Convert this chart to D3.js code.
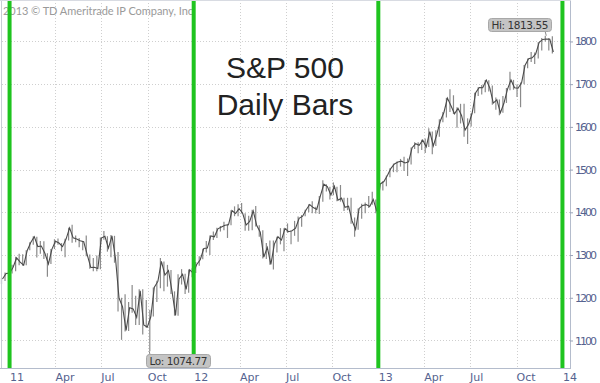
<!DOCTYPE html>
<html><head><meta charset="utf-8">
<script src="https://cdn.jsdelivr.net/npm/d3@7"></script>
<style>body{margin:0;background:#fff}svg{display:block}</style>
</head><body>
<svg id="c" width="600" height="383"></svg>
<script>
// Weekly (Friday) closes, highs and lows of the S&P 500, Dec 17 2010 – Dec 13 2013
const firstWeek = "2010-12-17";
const closes = [1243.91,1256.77,1257.64,
1271.50,1293.24,1283.35,1276.34,1310.87,1329.15,1343.01,1319.88,1321.15,1304.28,1279.20,1313.80,
1332.41,1328.17,1319.68,1337.38,1363.61,1340.20,1337.77,1333.27,1331.10,1300.16,1270.98,1271.50,1268.45,
1339.67,1343.80,1316.14,1345.02,1292.28,1199.38,1178.81,1123.53,1176.80,1173.97,1154.23,1216.01,1136.43,1131.42,
1155.46,1224.58,1238.25,1285.09,1253.23,1263.85,1215.65,1158.67,1244.28,1255.19,1219.66,1265.33,1257.60,
1277.81,1289.09,1315.38,1316.33,1344.90,1342.64,1361.23,1365.74,1369.63,1370.87,1404.17,1397.11,1408.47,
1398.08,1370.26,1378.53,1403.36,1369.10,1353.39,1295.22,1317.82,1278.04,1325.66,1342.84,1335.02,1362.16,
1354.68,1356.78,1362.66,1385.97,1390.99,1405.87,1418.16,1411.13,1406.58,1437.92,1465.77,1460.15,1440.67,
1460.93,1428.59,1433.19,1411.94,1414.20,1379.85,1359.88,1409.15,1416.18,1418.07,1413.58,1430.15,1402.43,
1466.47,1472.05,1485.98,1502.96,1513.17,1517.93,1519.79,1515.60,1518.20,1551.18,1560.70,1556.89,1569.19,
1553.28,1588.85,1555.25,1582.24,1614.42,1633.70,1667.47,1649.60,1630.74,1643.38,1626.73,1592.43,1606.28,
1631.89,1680.19,1692.09,1691.65,1709.67,1691.42,1655.83,1663.50,1632.97,1655.17,1687.99,1709.91,1691.75,
1690.50,1703.20,1744.50,1759.77,1761.64,1770.61,1798.18,1804.76,1805.81,1805.09,1775.32];
const highs = [1246,1259,1262,
1277,1296,1303,1302,1311,1330,1344,1343,1333,1332,1304,1314,
1337,1339,1328,1338,1364,1371,1346,1340,1333,1346,1301,1293,1299,
1341,1356,1344,1347,1345,1307,1200,1208,1190,1230,1205,1220,1220,1195,
1172,1224,1240,1293,1285,1277,1265,1215,1255,1267,1256,1266,1269,
1284,1297,1315,1333,1346,1355,1364,1368,1378,1373,1405,1414,1419,
1422,1398,1392,1406,1415,1370,1358,1328,1334,1334,1343,1363,1363,
1374,1357,1380,1390,1394,1406,1419,1426,1413,1438,1475,1466,1460,
1470,1460,1464,1434,1434,1434,1388,1409,1420,1423,1438,1448,1430,
1467,1473,1486,1503,1514,1519,1525,1530,1526,1552,1564,1564,1570,
1573,1597,1589,1592,1618,1635,1668,1688,1674,1646,1654,1654,1620,
1632,1680,1693,1698,1710,1709,1697,1669,1664,1672,1691,1729,1710,
1699,1704,1745,1760,1775,1774,1798,1808,1813.55,1808,1812];
const lows = [1232,1239,1251,
1257,1262,1276,1275,1276,1311,1324,1294,1303,1291,1249,1279,
1314,1324,1309,1295,1334,1329,1330,1318,1311,1297,1268,1262,1262,
1267,1336,1308,1295,1282,1168,1101.5,1121,1122,1165,1136,1136,1114,1130,
1074.77,1156,1190,1222,1215,1226,1209,1158,1158,1231,1209,1212,1248,
1258,1275,1290,1306,1300,1335,1340,1355,1358,1340,1370,1391,1391,
1397,1357,1357,1358,1367,1343,1292,1291,1277,1266,1306,1325,1309,
1352,1325,1345,1331,1366,1391,1400,1398,1397,1396,1425,1449,1430,
1440,1426,1425,1403,1405,1373,1343,1359,1385,1398,1410,1418,1398,
1402,1451,1461,1482,1494,1494,1507,1497,1485,1512,1548,1538,1546,
1539,1553,1536,1555,1577,1611,1622,1635,1630,1598,1608,1577,1560,
1601,1632,1672,1676,1681,1683,1652,1640,1627,1633,1656,1686,1687,
1670,1646,1700,1737,1752,1747,1760,1779,1800,1779,1772];
const yTicks = [1100,1200,1300,1400,1500,1600,1700,1800];
const yearLines = ["2011-01-01","2012-01-01","2013-01-01","2014-01-01"];
const xTickLabels = ["11","Apr","Jul","Oct","12","Apr","Jul","Oct","13","Apr","Jul","Oct","14"];
const xTickDates = ["2011-01-01","2011-04-01","2011-07-01","2011-10-01","2012-01-01","2012-04-01","2012-07-01","2012-10-01","2013-01-01","2013-04-01","2013-07-01","2013-10-01","2014-01-01"];
const hiLabel = {text:"Hi: 1813.55", date:"2013-11-29", value:1813.55};
const loLabel = {text:"Lo: 1074.77", date:"2011-10-04", value:1074.77};
const titleLines = ["S&P 500","Daily Bars"];
const copyright = "2013 \u00A9 TD Ameritrade IP Company, Inc";

const parse = d3.utcParse("%Y-%m-%d");
const weeks = d3.utcFriday.range(parse(firstWeek), d3.utcDay.offset(parse(firstWeek), 7*closes.length));
const data = weeks.map((d,i)=>({date:d, close:closes[i], high:highs[i], low:lows[i]}));

const svg = d3.select("#c");
const L = 2, R = 570, T = 0, B = 368;
const x = d3.scaleUtc().domain([parse("2010-12-16"), parse("2014-01-15")]).range([L, R]);
const y = d3.scaleLinear().domain([1035.6, 1897]).range([B, T]);

// grid
const g = svg.append("g");
g.selectAll("line.hg").data(yTicks).join("line")
  .attr("x1", L).attr("x2", R).attr("y1", d=>Math.round(y(d))+0.5).attr("y2", d=>Math.round(y(d))+0.5)
  .attr("stroke", "#cfcfcf").attr("stroke-dasharray", "1,2");
g.selectAll("line.vg").data(xTickDates.map(parse)).join("line")
  .attr("x1", d=>Math.round(x(d))+0.5).attr("x2", d=>Math.round(x(d))+0.5).attr("y1", T).attr("y2", B)
  .attr("stroke", "#cfcfcf").attr("stroke-dasharray", "1,2");

// copyright
svg.append("text").attr("x", 3).attr("y", 15).attr("font-family", "Lato, 'Open Sans', sans-serif")
  .attr("font-size", 11).attr("fill", "#9a9a9a").attr("textLength", 190).text(copyright);

// title
svg.append("g").selectAll("text").data(titleLines).join("text")
  .attr("x", 285).attr("y", (d,i)=>78+i*37).attr("text-anchor", "middle")
  .attr("font-family", "'Liberation Sans', Arial, sans-serif").attr("font-size", 30).attr("fill", "#222")
  .text(d=>d);

// bars
svg.append("g").selectAll("line").data(data).join("line")
  .attr("x1", d=>x(d3.utcDay.offset(d.date,-2))).attr("x2", d=>x(d3.utcDay.offset(d.date,-2)))
  .attr("y1", d=>y(d.high)).attr("y2", d=>y(d.low))
  .attr("stroke", "#8a8a8a").attr("stroke-width", 1.2);
svg.append("path").datum(data)
  .attr("d", d3.line().x(d=>x(d.date)).y(d=>y(d.close)))
  .attr("fill", "none").attr("stroke", "#4a4a4a").attr("stroke-width", 1.1);

// green year lines
svg.append("g").selectAll("line").data(yearLines.map(parse)).join("line")
  .attr("x1", d=>x(d)-0.5).attr("x2", d=>x(d)-0.5).attr("y1", T).attr("y2", B)
  .attr("stroke", "#1fc41f").attr("stroke-width", 4);

// axes frame
svg.append("line").attr("x1", R+0.5).attr("x2", R+0.5).attr("y1", 0).attr("y2", B).attr("stroke", "#b4bccc");
svg.append("line").attr("x1", L-0.5).attr("x2", L-0.5).attr("y1", 0).attr("y2", B).attr("stroke", "#c8ccd6");
svg.append("line").attr("x1", 0).attr("x2", R+1).attr("y1", B+0.5).attr("y2", B+0.5).attr("stroke", "#b4bccc");
svg.append("line").attr("x1", 0).attr("x2", R+1).attr("y1", 0.5).attr("y2", 0.5).attr("stroke", "#d8dbe2");

// y axis
const yAxis = d3.axisRight(y).tickValues(yTicks).tickSize(3).tickPadding(2).tickFormat(d3.format("d"));
svg.append("g").attr("transform", `translate(${R},0)`).call(yAxis)
  .call(s=>s.select(".domain").remove())
  .call(s=>s.selectAll("line").attr("stroke", "#9aa3b8"))
  .call(s=>s.selectAll("text").attr("fill", "#55638f").attr("font-size", 11).attr("font-family", "'DejaVu Sans', Verdana, sans-serif").attr("textLength", 22));

// x axis labels
svg.append("g").selectAll("text").data(xTickLabels).join("text")
  .attr("x", (d,i)=>x(parse(xTickDates[i]))).attr("y", 381)
  .attr("font-family", "'DejaVu Sans', Verdana, sans-serif").attr("font-size", 11).attr("fill", "#55638f")
  .text(d=>d);

// hi / lo labels
function tag(lbl, bx, by, bw, bh, ax, ay) {
  const px = x(parse(lbl.date)), py = y(lbl.value);
  svg.append("line").attr("x1", ax).attr("y1", ay).attr("x2", px).attr("y2", py).attr("stroke", "#888");
  svg.append("rect").attr("x", bx).attr("y", by).attr("width", bw).attr("height", bh).attr("rx", 3)
    .attr("fill", "#c4c4c4").attr("stroke", "#a8a8a8");
  svg.append("text").attr("x", bx+bw/2).attr("y", by+bh-3).attr("text-anchor", "middle")
    .attr("font-family", "'DejaVu Sans', Verdana, sans-serif").attr("font-size", 10.5).attr("fill", "#333")
    .attr("textLength", bw-6).text(lbl.text);
}
tag(hiLabel, 488.5, 18.5, 63, 13, 545, 31);
tag(loLabel, 146.5, 354.5, 64, 13, 150, 355);
</script>
</body></html>
